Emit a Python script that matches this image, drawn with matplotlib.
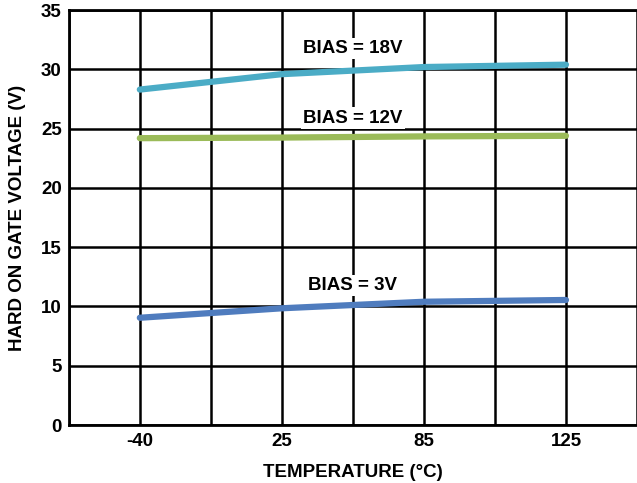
import matplotlib.pyplot as plt

# =========================
# Data
# =========================

temp_labels = ["-40", "25", "85", "125"]
temp_slots = [1, 3, 5, 7]          # grid column of each labelled temperature

bias_18v = [28.3, 29.6, 30.2, 30.4]
bias_12v = [24.2, 24.25, 24.35, 24.4]
bias_3v = [9.05, 9.85, 10.4, 10.55]

series = [
    ("BIAS = 18V", bias_18v, "#4BACC6", (4.0, 31.75)),
    ("BIAS = 12V", bias_12v, "#9BBB59", (4.0, 25.9)),
    ("BIAS = 3V", bias_3v, "#4F7CBE", (4.0, 11.8)),
]


def main():
    plt.rcParams["font.family"] = ["Liberation Sans", "DejaVu Sans"]
    plt.rcParams["font.weight"] = "bold"

    fig = plt.figure(figsize=(6.37, 4.83), dpi=100)
    ax = fig.add_axes([0.108, 0.12, 0.892, 0.859])

    for name, vals, color, (tx, ty) in series:
        ax.plot(temp_slots, vals, color=color, linewidth=4.5,
                solid_capstyle="round", zorder=3)
        ax.text(tx, ty, name, ha="center", va="center", fontsize=13.5,
                fontweight="bold", zorder=4,
                bbox=dict(facecolor="white", edgecolor="none", pad=1.5))

    ax.set_xlim(0, 8)
    ax.set_ylim(0, 35)
    ax.set_xticks(range(0, 9))
    ax.set_xticklabels(["" if i not in temp_slots else temp_labels[temp_slots.index(i)]
                        for i in range(0, 9)])
    ax.set_yticks(range(0, 36, 5))
    ax.tick_params(length=0, labelsize=13.5)
    ax.tick_params(axis="y", pad=5)
    ax.tick_params(axis="x", pad=6)
    for lab in ax.get_xticklabels() + ax.get_yticklabels():
        lab.set_fontweight("bold")

    ax.grid(True, color="black", linewidth=1.8, zorder=0)
    ax.set_axisbelow(True)
    ax.spines["right"].set_visible(False)
    for side in ["left", "bottom", "top"]:
        ax.spines[side].set_linewidth(2)

    ax.set_xlabel("TEMPERATURE (°C)", fontsize=13.5, fontweight="bold", labelpad=10)
    ax.set_ylabel("HARD ON GATE VOLTAGE (V)", fontsize=13.5, fontweight="bold", labelpad=11)

    fig.savefig("out.png", dpi=100)
    plt.close(fig)


if __name__ == "__main__":
    main()
